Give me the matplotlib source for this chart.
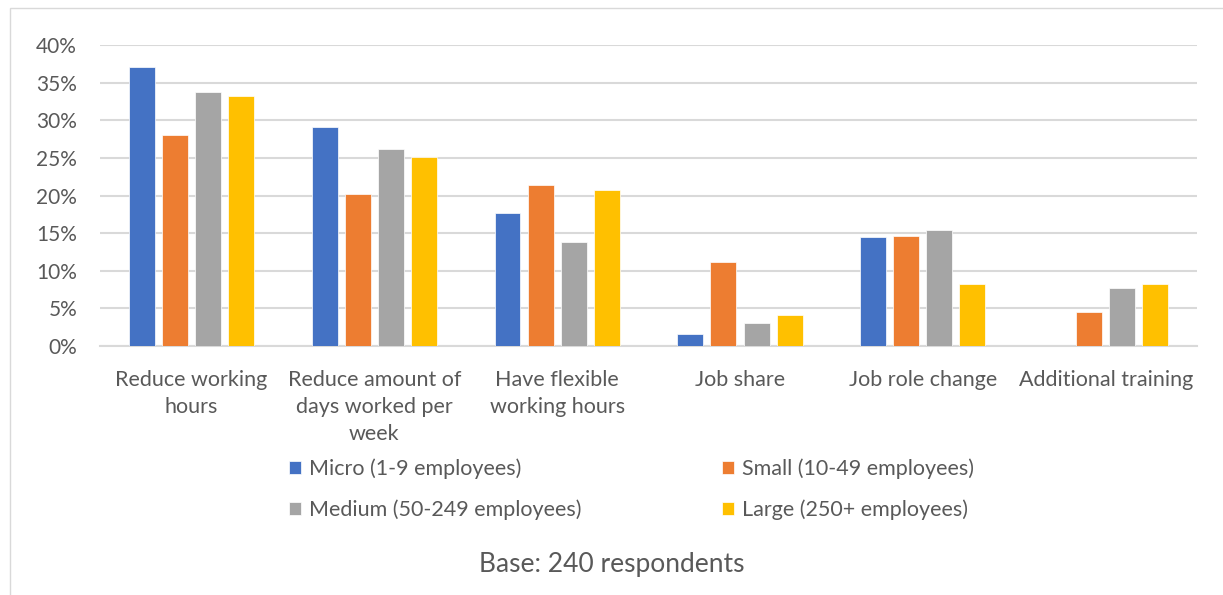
import numpy as np
import matplotlib.pyplot as plt
from matplotlib.patches import Rectangle

categories = ["Reduce working\nhours", "Reduce amount of\ndays worked per\nweek",
              "Have flexible\nworking hours", "Job share", "Job role change",
              "Additional training"]
series_names = ["Micro (1-9 employees)", "Small (10-49 employees)",
                "Medium (50-249 employees)", "Large (250+ employees)"]
micro = [0.371, 0.291, 0.177, 0.016, 0.145, 0.0]
small = [0.280, 0.202, 0.214, 0.112, 0.146, 0.045]
medium = [0.338, 0.262, 0.138, 0.030, 0.154, 0.077]
large = [0.333, 0.251, 0.208, 0.041, 0.083, 0.083]
colors = ["#4472C4", "#ED7D31", "#A5A5A5", "#FFC000"]

plt.rcParams['font.family'] = ['Lato', 'DejaVu Sans']
text_col = "#595959"

fig = plt.figure(figsize=(12.23, 5.95), dpi=100)
ax = fig.add_axes([0.0818, 0.4185, 0.897, 0.5055])

x = np.arange(len(categories))
step = 0.181
width = 0.142
bars = []
for i, (vals, name) in enumerate(zip([micro, small, medium, large], series_names)):
    b = ax.bar(x + (i - 1.5) * step, vals, width, color=colors[i], label=name,
               edgecolor="white", linewidth=0.5, zorder=3)
    bars.append(b)

ax.set_xlim(-0.5, len(categories) - 0.5)
ax.set_ylim(0, 0.4)
yt = np.arange(0, 0.41, 0.05)
ax.set_yticks(yt)
ax.set_yticklabels([f"{int(round(v * 100))}%" for v in yt])
ax.yaxis.grid(True, color="#d9d9d9", linewidth=1.5, zorder=0)
ax.set_axisbelow(True)
for s in ["top", "right", "left"]:
    ax.spines[s].set_visible(False)
ax.spines["bottom"].set_color("#d9d9d9")
ax.spines["bottom"].set_linewidth(1.5)
ax.tick_params(axis="both", length=0, colors=text_col)
ax.tick_params(axis="y", pad=16.5, labelsize=15)
ax.tick_params(axis="x", pad=17, labelsize=15.5)
ax.set_xticks(x)
ax.set_xticklabels(categories, linespacing=1.45)

# row-wise legend order: Micro, Small / Medium, Large
order = [0, 2, 1, 3]
fig.legend([bars[k] for k in order], [series_names[k] for k in order],
           loc="upper left", bbox_to_anchor=(0.2363, 0.229), ncol=2,
           frameon=False, fontsize=15.5, handlelength=0.55, handleheight=0.55,
           handletextpad=0.4, columnspacing=6.5, labelspacing=0.95,
           borderpad=0, borderaxespad=0, labelcolor=text_col)

fig.text(0.5, 0.052, "Base: 240 respondents", ha="center", va="center",
         fontsize=19, color=text_col)

fig.patches.append(Rectangle((0.0082, -0.1), 1.1, 1.0866, transform=fig.transFigure,
                             fill=False, edgecolor="#d9d9d9", linewidth=1.0))

fig.savefig("out.png", dpi=100)
